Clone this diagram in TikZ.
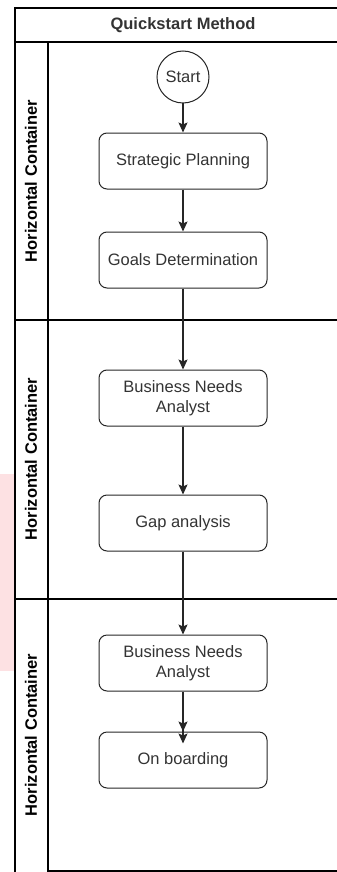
\documentclass[tikz,border=0pt]{standalone}
\usepackage{fontspec}
\setmainfont{Liberation Sans}
\usetikzlibrary{arrows.meta,positioning}
\definecolor{lanepink}{HTML}{FDE1E3}
\definecolor{ink}{HTML}{333333}

\tikzset{
  frame/.style={draw=black, line width=1.4pt},
  stepbox/.style={draw=black!85, line width=1pt, rounded corners=8pt,
    minimum width=168pt, minimum height=56pt, inner sep=0pt,
    align=center, text=ink, font=\fontsize{16.5}{20}\selectfont},
  startnode/.style={circle, draw=black!85, line width=1pt, minimum size=52pt,
    inner sep=0pt, text=ink, font=\fontsize{16.5}{20}\selectfont},
  lanelabel/.style={rotate=90, text=black, font=\bfseries\fontsize{16.5}{20}\selectfont},
  flow/.style={draw=black!85, line width=1.1pt,
    -{Stealth[length=10pt,width=9pt,inset=2pt]}},
  flowtwo/.style={draw=black!85, line width=1.1pt,
    -{Stealth[length=10pt,width=9pt,inset=2pt,sep=2pt]Stealth[length=10pt,width=9pt,inset=2pt]}},
}

\begin{document}
\begin{tikzpicture}[x=1pt,y=-1pt]

\clip (0,0) rectangle (337,872);
\fill[lanepink] (0,474) rectangle (15,671);

% pool and lanes
\draw[frame] (15,880) -- (15,8) -- (360,8);
\draw[frame] (15,42) -- (360,42);
\draw[frame] (48,42) -- (48,880);
\draw[frame] (15,320) -- (360,320);
\draw[frame] (15,599) -- (360,599);
\draw[frame] (48,871) -- (360,871);

\node[text=ink, font=\bfseries\fontsize{16.5}{20}\selectfont] (title) at (183,25) {Quickstart Method};
\node[lanelabel] (laneA) at (31,181) {Horizontal Container};
\node[lanelabel] (laneB) at (31,459) {Horizontal Container};
\node[lanelabel] (laneC) at (31,735) {Horizontal Container};

% steps
\node[startnode] (start) at (183,77) {Start};
\node[stepbox] (plan) at (183,161) {Strategic Planning};
\node[stepbox] (goals) at (183,260) {Goals Determination};
\node[stepbox] (needsA) at (183,398) {Business Needs\\Analyst};
\node[stepbox] (gap) at (183,523) {Gap analysis};
\node[stepbox] (needsB) at (183,663) {Business Needs\\Analyst};
\node[stepbox] (board) at (183,760) {On boarding};

\draw[flow] (start) -- (plan);
\draw[flow] (plan) -- (goals);
\draw[flow] (goals) -- (needsA);
\draw[flow] (needsA) -- (gap);
\draw[flow] (gap) -- (needsB);
\draw[flowtwo] (needsB) -- ([yshift=-12pt]board.north);
\end{tikzpicture}
\end{document}
